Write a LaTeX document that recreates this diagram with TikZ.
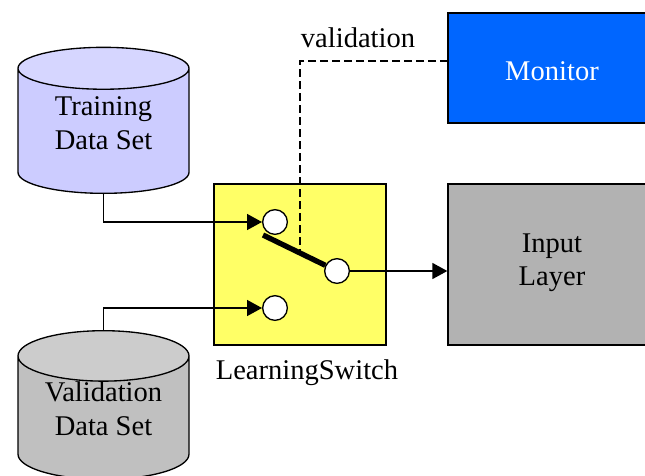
\documentclass[tikz,border=0pt]{standalone}
\usepackage{fontspec}
\setmainfont{Liberation Serif}
\usetikzlibrary{shapes.geometric,arrows.meta,positioning}
\definecolor{trainbody}{HTML}{CCCCFF}
\definecolor{traintop}{HTML}{D6D6FF}
\definecolor{validbody}{HTML}{C0C0C0}
\definecolor{validtop}{HTML}{CCCCCC}
\definecolor{switchfill}{HTML}{FFFF66}
\definecolor{monitorfill}{HTML}{0066FF}
\definecolor{inputfill}{HTML}{B2B2B2}
\begin{document}
\begin{tikzpicture} [
      x = 0.75pt, y = -0.75pt,
      every node/.style = { inner sep = 0, font = \fontsize{21.4}{25.2}\selectfont, align = center },
      datastore/.style = { draw, line width = 1pt, cylinder, shape border rotate = 90, aspect = 0.43, cylinder uses custom fill, minimum width = 128.25pt, minimum height = 109.5pt, anchor = south },
      unit/.style = { draw, line width = 1pt, rectangle, minimum width = 156pt },
      port/.style = { draw, line width = 1pt, circle, fill = white, minimum width = 18.5pt },
      wire/.style = { line width = 1.1pt, -{Triangle[length = 11.25pt, width = 12pt]} }
      ]

      \useasboundingbox (0,0) rectangle (645,475);

      \node [datastore, cylinder body fill = trainbody, cylinder end fill = traintop] (training) at (103.5,194) {Training\\Data Set\\[-13.5pt]\mbox{}};
      \node [datastore, cylinder body fill = validbody, cylinder end fill = validtop] (validation) at (103.5,480) {Validation\\Data Set\\[-11pt]\mbox{}};
      \node [draw, line width = 1pt, fill = switchfill, minimum width = 129pt, minimum height = 120.75pt] (switch) at (300,264.5) {};
      \node [below = 10pt of switch, xshift = 5.25pt] (switchlabel) {LearningSwitch};
      \node [unit, fill = monitorfill, text = white, minimum height = 82.5pt] (monitor) at (552,68) {\raisebox{-2.25pt}[\height][\depth]{Monitor}};
      \node [unit, fill = inputfill, minimum height = 120.75pt] (input) at (552,264.5) {Input\\Layer\\[-18pt]\mbox{}};
      \node (validationlabel) at (358,38) {validation};

      \coordinate (monitorport) at (448,61);
      \coordinate (leverend) at (263,235);
      \coordinate (levertap) at (300,255);

      \draw [line width = 1.8pt, dash pattern = on 6pt off 3pt] (monitorport) -| (levertap);

      \node [port] (trainport) at (275,222) {};
      \node [port] (validport) at (275,308) {};
      \node [port] (outport) at (337,271) {};

      \draw [line width = 4pt] (leverend) -- (outport);
      \draw [wire] (training.south) |- (trainport);
      \draw [wire] (validation.north) |- (validport);
      \draw [wire] (outport) -- (input.west |- outport);
    \end{tikzpicture}
\end{document}
